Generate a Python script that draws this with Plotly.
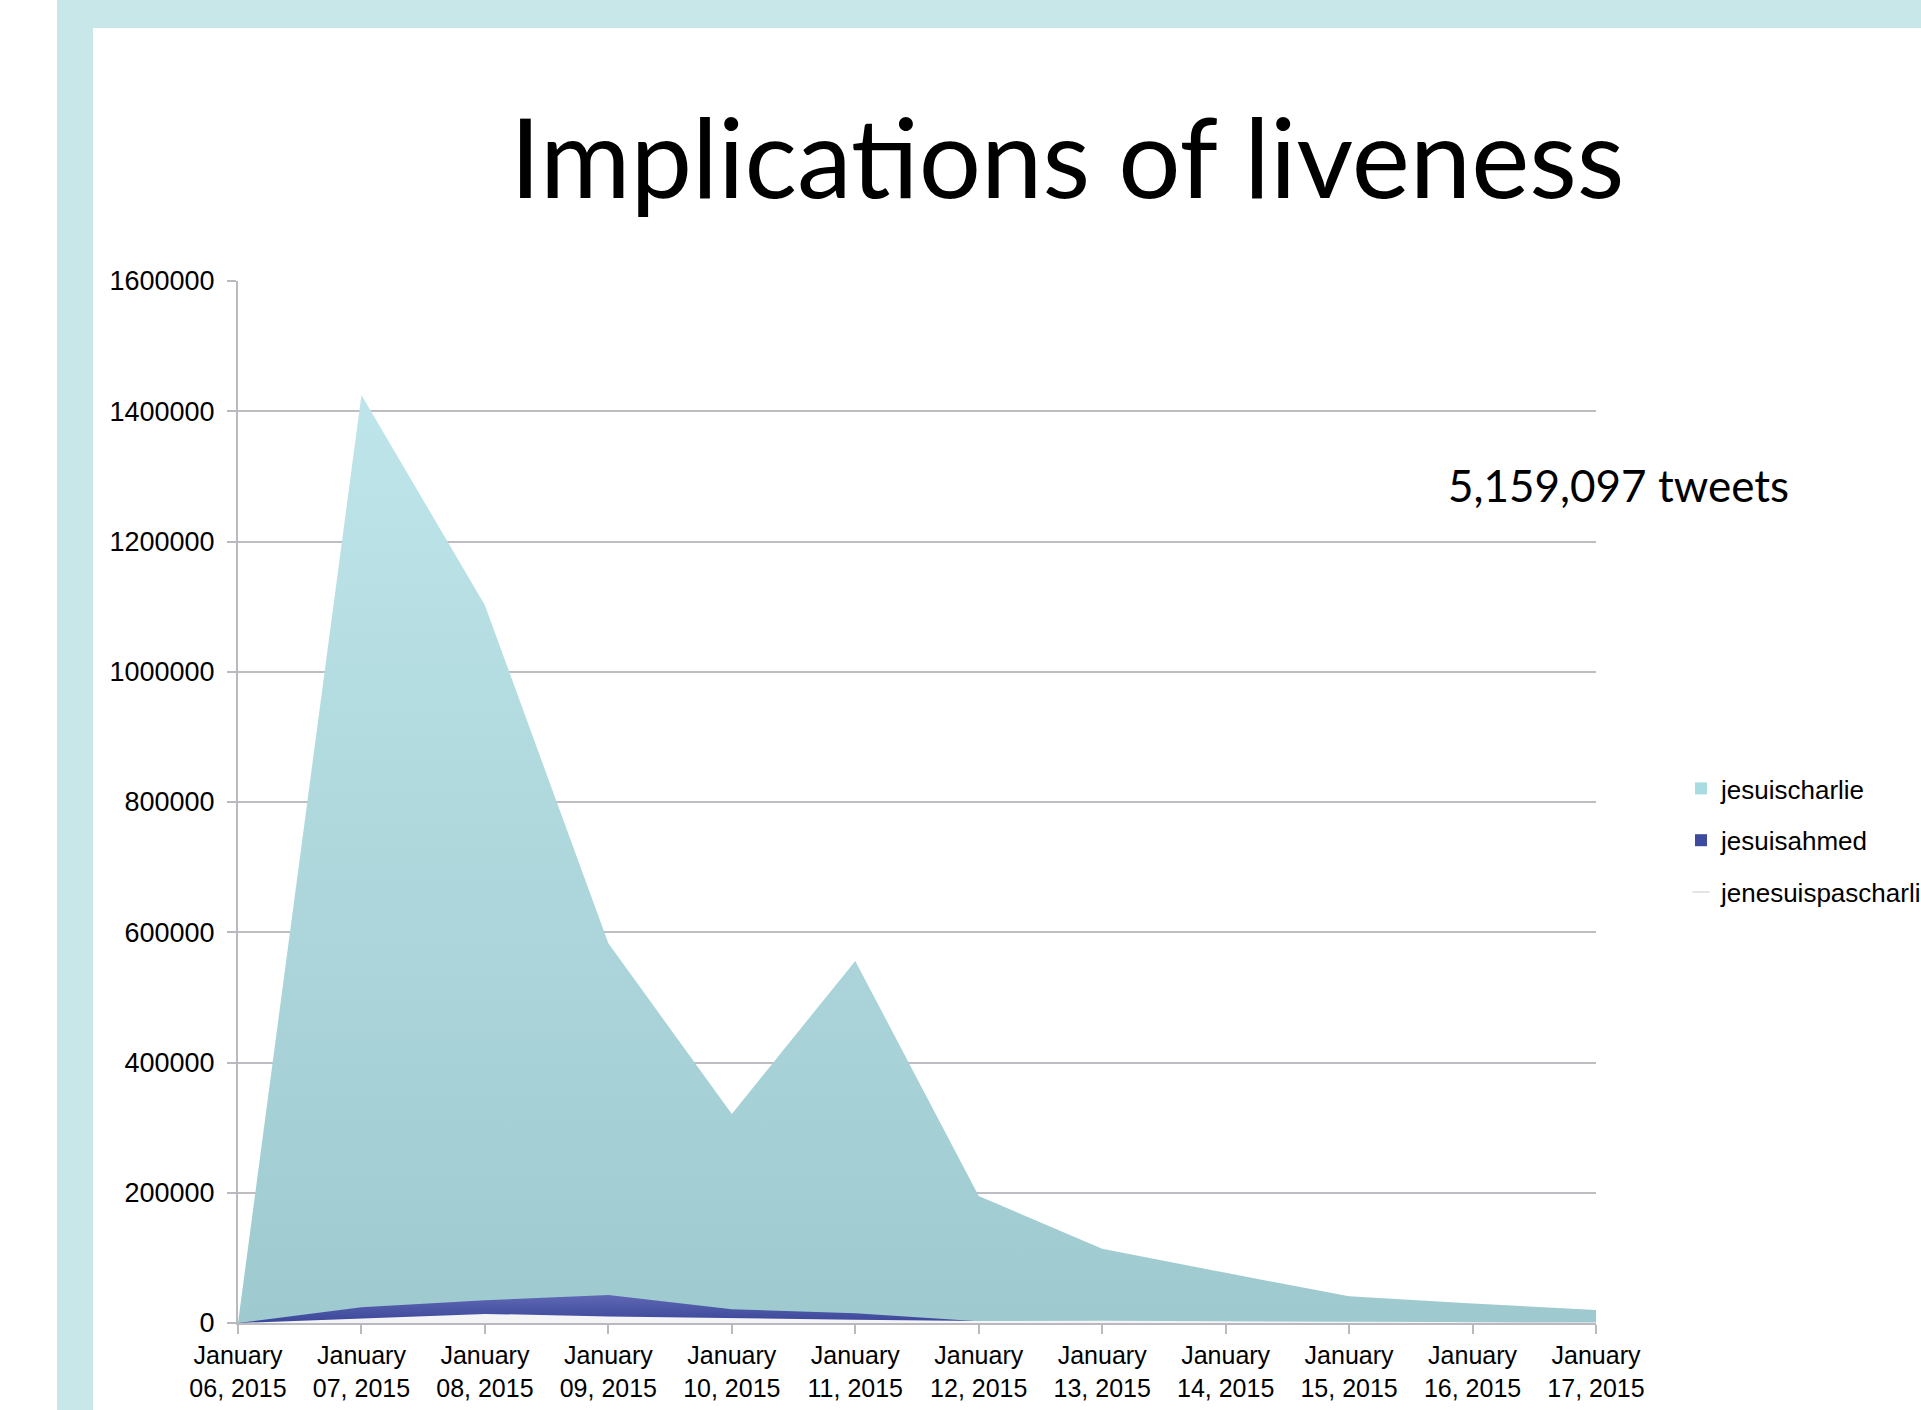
import plotly.graph_objects as go

dates = ["January<br>06, 2015", "January<br>07, 2015", "January<br>08, 2015", "January<br>09, 2015",
         "January<br>10, 2015", "January<br>11, 2015", "January<br>12, 2015", "January<br>13, 2015",
         "January<br>14, 2015", "January<br>15, 2015", "January<br>16, 2015", "January<br>17, 2015"]
jesuischarlie = [0, 1425000, 1102000, 583000, 321000, 556000, 195000, 114000, 77000, 41000, 30000, 20000]
jesuisahmed = [0, 24000, 35000, 43000, 21000, 15000, 2500, 1500, 1000, 800, 600, 500]
jenesuispascharlie = [0, 7000, 14000, 10000, 7000, 5000, 3000, 3500, 2500, 2000, 1500, 1000]
y_ticks = [0, 200000, 400000, 600000, 800000, 1000000, 1200000, 1400000, 1600000]

W, H = 1921, 1410
L, R, T, B = 238, 1596, 281, 1323
pw, ph = R - L, B - T

def px(x):
    return (x - L) / pw

def py(y):
    return (B - y) / ph

FONT = "Liberation Sans, Arial, sans-serif"
fig = go.Figure()

fig.add_trace(go.Scatter(x=dates, y=jesuischarlie, mode="lines", line=dict(width=0),
                         fill="tozeroy",
                         fillgradient=dict(type="vertical", colorscale=[[0, "#9ECACF"], [1, "#BEE5EA"]]),
                         showlegend=False, hoverinfo="skip"))
fig.add_trace(go.Scatter(x=dates, y=jesuisahmed, mode="lines", line=dict(width=0),
                         fill="tozeroy",
                         fillgradient=dict(type="vertical", colorscale=[[0, "#3A4699"], [1, "#6068B4"]]),
                         showlegend=False, hoverinfo="skip"))
fig.add_trace(go.Scatter(x=dates, y=jenesuispascharlie, mode="lines", line=dict(width=0),
                         fill="tozeroy", fillcolor="#F4F4F6",
                         showlegend=False, hoverinfo="skip"))

legend_names = ["jesuischarlie", "jesuisahmed", "jenesuispascharlie"]
legend_marks = [dict(symbol="square", size=13, color="#A9DCE0"),
                dict(symbol="square", size=13, color="#3E4A9F"),
                dict(symbol="line-ew", size=13, color="#E4E4E4", line=dict(width=4, color="#E4E4E4"))]
for name, mk in zip(legend_names, legend_marks):
    fig.add_trace(go.Scatter(x=[None], y=[None], mode="markers", name=name,
                             legendgroup=name, marker=mk))

# decorative slide frame
fig.add_shape(type="rect", xref="paper", yref="paper", x0=px(57), x1=px(93), y0=py(H), y1=py(0),
              fillcolor="#C8E7E9", line=dict(width=0), layer="below")
fig.add_shape(type="rect", xref="paper", yref="paper", x0=px(57), x1=px(W), y0=py(28), y1=py(0),
              fillcolor="#C8E7E9", line=dict(width=0), layer="below")

fig.add_annotation(text="Implications of liveness", xref="paper", yref="paper",
                   x=px(1067), y=py(155), xanchor="center", yanchor="middle", showarrow=False,
                   font=dict(family="Lato, Open Sans, sans-serif", size=110, color="black"))
fig.add_annotation(text="5,159,097 tweets", xref="paper", yref="paper",
                   x=px(1618), y=py(485), xanchor="center", yanchor="middle", showarrow=False,
                   font=dict(family="Lato, Open Sans, sans-serif", size=44, color="black"))

fig.update_layout(
    width=W, height=H, autosize=False,
    margin=dict(l=L, r=W - R, t=T, b=H - B, pad=0, autoexpand=False),
    paper_bgcolor="white", plot_bgcolor="white",
    font=dict(family=FONT, size=25, color="black"),
    legend=dict(x=px(1681), y=py(765), xanchor="left", yanchor="top",
                font=dict(family=FONT, size=26, color="black"),
                tracegroupgap=15, itemsizing="constant", bgcolor="rgba(0,0,0,0)"),
    xaxis=dict(type="category", range=[0, len(dates) - 1], showgrid=False,
               showline=True, linecolor="#B9B9BF", linewidth=2,
               ticks="outside", ticklen=9, tickcolor="#B9B9BF", tickwidth=1.5,
               tickfont=dict(family=FONT, size=25, color="black"), zeroline=False),
    yaxis=dict(range=[0, 1600000], tickvals=y_ticks, ticktext=[str(v) for v in y_ticks],
               showgrid=True, gridcolor="#BDBDC2", gridwidth=2,
               showline=True, linecolor="#B9B9BF", linewidth=2,
               ticks="outside", ticklen=9, tickcolor="#B9B9BF", tickwidth=2,
               ticklabelstandoff=7,
               tickfont=dict(family=FONT, size=27, color="black"), zeroline=False),
)

post = ("document.body.style.margin='0';document.body.style.padding='0';"
        "document.documentElement.style.overflow='hidden';document.body.style.overflow='hidden';"
        "var gd=document.getElementById('{plot_id}');"
        "Plotly.relayout(gd,{width:1921,height:1410,autosize:false});")
fig.write_html("out.html", config={"responsive": False, "displayModeBar": False}, post_script=post)
